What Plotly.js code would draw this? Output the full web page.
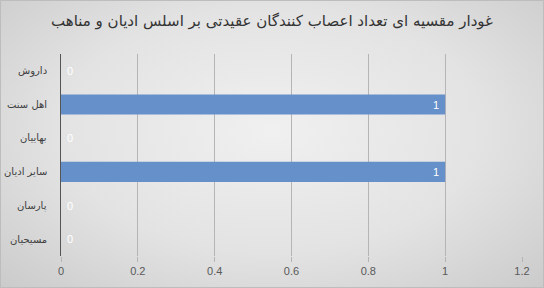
<!DOCTYPE html>
<html><head><meta charset="utf-8">
<script src="https://cdn.plot.ly/plotly-3.0.1.min.js"></script>
<style>
html,body{margin:0;padding:0;}
#wrap{width:542px;height:286px;border:1px solid #bdbdbd;background:radial-gradient(ellipse at 50% 45%, #f0f0f0 0%, #e3e3e3 55%, #cbcbcb 100%);}
#chart{width:542px;height:286px;}
</style></head>
<body><div id="wrap"><div id="chart"></div></div>
<script>
const categories = ["داروش", "اهل سنت", "بهاییان", "سایر ادیان", "پارسان", "مسیحیان"];
const values = [0, 1, 0, 1, 0, 0];
const labels = values.map(v => v > 0 ? String(v) + '\u00a0' : '\u00a0' + String(v));
const titleText = "غودار مقسیه ای تعداد اعصاب کنندگان عقیدتی بر اسلس ادیان و مناهب";
const xTicks = [0, 0.2, 0.4, 0.6, 0.8, 1, 1.2];

const trace = {
  type: 'bar', orientation: 'h',
  y: categories, x: values,
  text: labels,
  textposition: values.map(v => v > 0 ? 'inside' : 'outside'),
  insidetextanchor: 'end',
  textfont: {color: '#ffffff', size: 11, family: 'Liberation Sans, Arial'},
  outsidetextfont: {color: '#ffffff', size: 11, family: 'Liberation Sans, Arial'},
  cliponaxis: false,
  marker: {color: '#6590c9'},
  hoverinfo: 'none'
};
const catAnnotations = categories.map(c => ({
  xref: 'paper', yref: 'y', x: 0, y: c, xanchor: 'right', yanchor: 'middle',
  xshift: -12, showarrow: false, text: c,
  font: {family: 'DejaVu Sans', size: 10, color: '#404040'}
}));
const layout = {
  width: 542, height: 286,
  paper_bgcolor: 'rgba(0,0,0,0)', plot_bgcolor: 'rgba(0,0,0,0)',
  margin: {l: 60, r: 21, t: 53, b: 31},
  bargap: 0.4,
  showlegend: false,
  title: {text: titleText, x: 0.5, xanchor: 'center', y: 0.93, yanchor: 'middle',
          font: {family: 'DejaVu Sans', size: 15, color: '#333333'}},
  xaxis: {range: [0, 1.2], tickvals: xTicks, ticktext: xTicks.map(String),
          showgrid: true, gridcolor: '#b5b5b5', gridwidth: 1,
          zeroline: false, showline: false,
          ticks: 'outside', ticklen: 5, tickcolor: '#b5b5b5',
          tickfont: {family: 'Liberation Sans, Arial', size: 11, color: '#595959'}},
  yaxis: {autorange: 'reversed', type: 'category',
          showline: true, linecolor: '#555555', linewidth: 1,
          showgrid: false, ticks: '', showticklabels: false},
  annotations: catAnnotations
};
Plotly.newPlot('chart', [trace], layout, {displayModeBar: false, staticPlot: true});
</script></body></html>
